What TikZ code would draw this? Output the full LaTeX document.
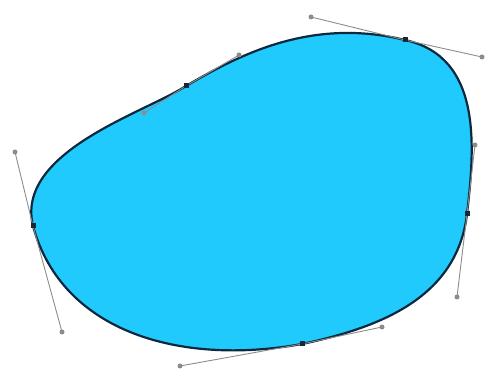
\documentclass[tikz,border=0pt]{standalone}
\begin{document}
\begin{tikzpicture}[x=1pt,y=-1pt,
  shapefill/.style={fill={rgb,255:red,32;green,202;blue,252}, draw={rgb,255:red,12;green,40;blue,60}, line width=2.2pt},
  handleline/.style={draw={rgb,255:red,140;green,140;blue,140}, line width=0.9pt},
  handledot/.style={circle, fill={rgb,255:red,140;green,140;blue,140}, inner sep=0pt, minimum size=5pt},
  anchorpt/.style={rectangle, fill={rgb,255:red,20;green,40;blue,55}, inner sep=0pt, minimum size=5pt}]
\useasboundingbox (0,0) rectangle (485,371);
% anchors
\coordinate (a1) at (33,226);
\coordinate (a5) at (186,86);
\coordinate (a4) at (405,40);
\coordinate (a3) at (467,214);
\coordinate (a2) at (302,344);
% handles
\coordinate (h1a) at (15,152);
\coordinate (h5a) at (144,113);
\coordinate (h5b) at (239,55);
\coordinate (h4a) at (311,17);
\coordinate (h4b) at (482,57);
\coordinate (h3a) at (475,145);
\coordinate (h3b) at (457,297);
\coordinate (h2a) at (382,327);
\coordinate (h2b) at (180,366);
\coordinate (h1b) at (62,332);
% shape
\path[shapefill] (a1) .. controls (h1a) and (h5a) .. (a5)
  .. controls (h5b) and (h4a) .. (a4)
  .. controls (h4b) and (h3a) .. (a3)
  .. controls (h3b) and (h2a) .. (a2)
  .. controls (h2b) and (h1b) .. (a1) -- cycle;
% handle lines
\foreach \a/\h in {a1/h1a,a1/h1b,a5/h5a,a5/h5b,a4/h4a,a4/h4b,a3/h3a,a3/h3b,a2/h2a,a2/h2b}
  \draw[handleline] (\a) -- (\h);
\foreach \h in {h1a,h1b,h5a,h5b,h4a,h4b,h3a,h3b,h2a,h2b}
  \node[handledot] (n\h) at (\h) {};
\foreach \a in {a1,a2,a3,a4,a5}
  \node[anchorpt] (n\a) at (\a) {};
\end{tikzpicture}
\end{document}
